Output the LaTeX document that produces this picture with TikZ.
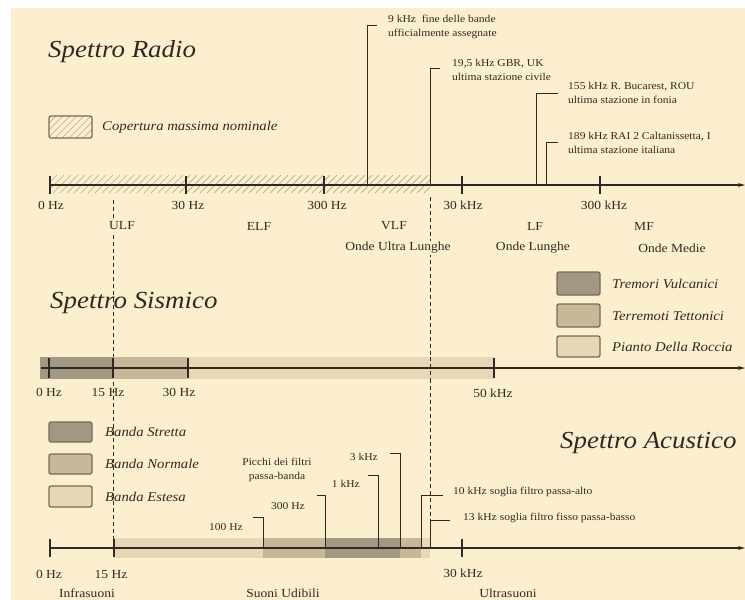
\documentclass[tikz,border=0pt]{standalone}
\usepackage{fontspec}
\setmainfont{Liberation Serif}[FakeStretch=1.1]
\usetikzlibrary{arrows.meta}
\definecolor{bg}{HTML}{FCEFCF}
\definecolor{ink}{HTML}{2F2A21}
\definecolor{hatchc}{HTML}{B5A78C}
\definecolor{bdark}{HTML}{A39883}
\definecolor{bmed}{HTML}{C6B899}
\definecolor{blight}{HTML}{E6D8B7}
\definecolor{boxedge}{HTML}{766A55}
\tikzset{
 axisline/.style={ink, line width=1.1pt, -{Stealth[length=7pt,width=4pt]}},
 tickline/.style={ink, line width=1.1pt},
 callline/.style={ink, line width=1pt},
 bandsep/.style={ink, line width=0.9pt, dash pattern=on 4pt off 3pt},
 lbl/.style={font=\fontsize{12.3}{14}\selectfont, text=ink, inner sep=1pt},
 bandlbl/.style={lbl, fill=bg, inner sep=1.5pt},
 calltxt/.style={font=\fontsize{10.5}{14}\selectfont, text=ink, inner sep=0pt, align=left},
 legtxt/.style={font=\fontsize{13.4}{15}\selectfont\itshape, text=ink, anchor=west, inner sep=0pt},
 ttl/.style={font=\fontsize{24.5}{28}\selectfont\itshape, text=ink, anchor=base west, inner sep=0pt},
 legbox/.style={draw=boxedge, line width=1.3pt, rounded corners=2pt},
 hatchl/.style={hatchc, line width=0.7pt},
}
\begin{document}
\begin{tikzpicture}[x=1pt,y=-1pt]
\useasboundingbox (0,0) rectangle (745,600);
\fill[white] (0,0) rectangle (745,600);
\fill[bg] (11,8) rectangle (745,600);

% ================= RADIO =================
\node[ttl] (tradio) at (48,57) {Spettro Radio};
\begin{scope}
  \clip (49,116) rectangle (92,138);
  \foreach \i in {27,34,...,97} \draw[hatchl] (\i,138) -- (\i+22,116);
\end{scope}
\draw[legbox] (49,116) rectangle (92,138);
\node[legtxt] (lcop) at (102,127) {Copertura massima nominale};

\begin{scope}
  \clip (50,175) rectangle (430,193);
  \foreach \i in {32,39,...,432} \draw[hatchl] (\i,193) -- (\i+18,175);
\end{scope}

% separators
\coordinate (s1t) at (113,200); \coordinate (s1b) at (113,540);
\coordinate (s2t) at (430,197); \coordinate (s2b) at (430,548);
\draw[bandsep] (s1t) -- (s1b);
\draw[bandsep] (s2t) -- (s2b);

\coordinate (r0) at (50,185); \coordinate (rend) at (745,185);
\draw[axisline] (r0) -- (rend);
\foreach \x/\t/\lx in {50/0 Hz/51, 186/30 Hz/188, 324/300 Hz/327, 462/30 kHz/463, 600/300 kHz/604}{
  \draw[tickline] (\x,176) -- (\x,194);
  \node[lbl] at (\lx,205) {\t};
}

% callouts
\coordinate (c1b) at (367,185); \coordinate (c1t) at (377,25);
\draw[callline] (c1b) |- (c1t);
\node[calltxt, anchor=north west] (c1) at (388,15) {9 kHz\ \ fine delle bande\\ufficialmente assegnate};
\coordinate (c2b) at (430,185); \coordinate (c2t) at (440,68);
\draw[callline] (c2b) |- (c2t);
\node[calltxt, anchor=north west] (c2) at (452,59) {19,5 kHz GBR, UK\\ultima stazione civile};
\coordinate (c3b) at (536,185); \coordinate (c3t) at (558,93);
\draw[callline] (c3b) |- (c3t);
\node[calltxt, anchor=north west] (c3) at (568,82) {155 kHz R. Bucarest, ROU\\ultima stazione in fonia};
\coordinate (c4b) at (546,185); \coordinate (c4t) at (558,142);
\draw[callline] (c4b) |- (c4t);
\node[calltxt, anchor=north west] (c4) at (568,132) {189 kHz RAI 2 Caltanissetta, I\\ultima stazione italiana};

% band names
\node[bandlbl] (ulf) at (122,226) {ULF};
\node[bandlbl] (elf) at (259,226) {ELF};
\node[bandlbl] (vlf) at (394,226) {VLF};
\node[bandlbl] (lf) at (535,226) {LF};
\node[bandlbl] (mf) at (644,226) {MF};
\node[bandlbl] (oul) at (398,248) {Onde Ultra Lunghe};
\node[bandlbl] (ol) at (533,248) {Onde Lunghe};
\node[bandlbl] (om) at (672,248) {Onde Medie};

% ================= SISMICO =================
\node[ttl] (tsis) at (50,308) {Spettro Sismico};
\draw[legbox, fill=bdark] (557,272) rectangle (600,295);
\draw[legbox, fill=bmed] (557,304) rectangle (600,327);
\draw[legbox, fill=blight] (557,336) rectangle (600,357);
\node[legtxt] (ltv) at (612,284) {Tremori Vulcanici};
\node[legtxt] (ltt) at (612,316) {Terremoti Tettonici};
\node[legtxt] (lpr) at (612,347) {Pianto Della Roccia};

\fill[blight] (40,357) rectangle (494,379);
\fill[bmed] (40,357) rectangle (188,379);
\fill[bdark] (40,357) rectangle (113,379);
\draw[bandsep] (430,357) -- (430,379);
\coordinate (s0) at (41,368); \coordinate (send) at (745,368);
\draw[axisline] (s0) -- (send);
\foreach \x in {49,113,188,494} \draw[tickline] (\x,358) -- (\x,378);
\node[lbl] at (49,392) {0 Hz};
\node[lbl] at (108,392) {15 Hz};
\node[lbl] at (179,392) {30 Hz};
\node[lbl] at (493,393) {50 kHz};

% ================= ACUSTICO =================
\node[ttl] (tac) at (560,448) {Spettro Acustico};
\draw[legbox, fill=bdark] (49,422) rectangle (92,442);
\draw[legbox, fill=bmed] (49,454) rectangle (92,474);
\draw[legbox, fill=blight] (49,486) rectangle (92,507);
\node[legtxt] (lbs) at (105,432) {Banda Stretta};
\node[legtxt] (lbn) at (105,464) {Banda Normale};
\node[legtxt] (lbe) at (105,497) {Banda Estesa};

\fill[blight] (114,538) rectangle (430,558);
\fill[bmed] (263,538) rectangle (421,558);
\fill[bdark] (325,538) rectangle (400,558);

\coordinate (a0) at (50,548); \coordinate (aend) at (745,548);
\draw[axisline] (a0) -- (aend);
\foreach \x in {50,114,462} \draw[tickline] (\x,539) -- (\x,557);

\coordinate (p1b) at (263,548); \coordinate (p1t) at (253,517);
\draw[callline] (p1b) |- (p1t);
\node[calltxt, anchor=east] (p1) at (243,527) {100 Hz};
\coordinate (p2b) at (325,548); \coordinate (p2t) at (317,495);
\draw[callline] (p2b) |- (p2t);
\node[calltxt, anchor=east] (p2) at (305,506) {300 Hz};
\coordinate (p3b) at (378,548); \coordinate (p3t) at (368,475);
\draw[callline] (p3b) |- (p3t);
\node[calltxt, anchor=east] (p3) at (360,484) {1 kHz};
\coordinate (p4b) at (400,548); \coordinate (p4t) at (390,453);
\draw[callline] (p4b) |- (p4t);
\node[calltxt, anchor=east] (p4) at (378,457) {3 kHz};
\node[calltxt, align=center] (pic) at (277,470) {Picchi dei filtri\\passa-banda};
\coordinate (f1b) at (421,548); \coordinate (f1t) at (443,495);
\draw[callline] (f1b) |- (f1t);
\node[calltxt, anchor=west] (f1) at (453,492) {10 kHz soglia filtro passa-alto};
\coordinate (f2b) at (430,548); \coordinate (f2t) at (450,520);
\draw[callline] (f2b) |- (f2t);
\node[calltxt, anchor=west] (f2) at (463,518) {13 kHz soglia filtro fisso passa-basso};

\node[lbl] at (49,574) {0 Hz};
\node[lbl] at (111,574) {15 Hz};
\node[lbl] at (463,573) {30 kHz};
\node[lbl] (inf) at (87,593) {Infrasuoni};
\node[lbl] (udi) at (283,593) {Suoni Udibili};
\node[lbl] (ult) at (508,593) {Ultrasuoni};
\end{tikzpicture}
\end{document}
